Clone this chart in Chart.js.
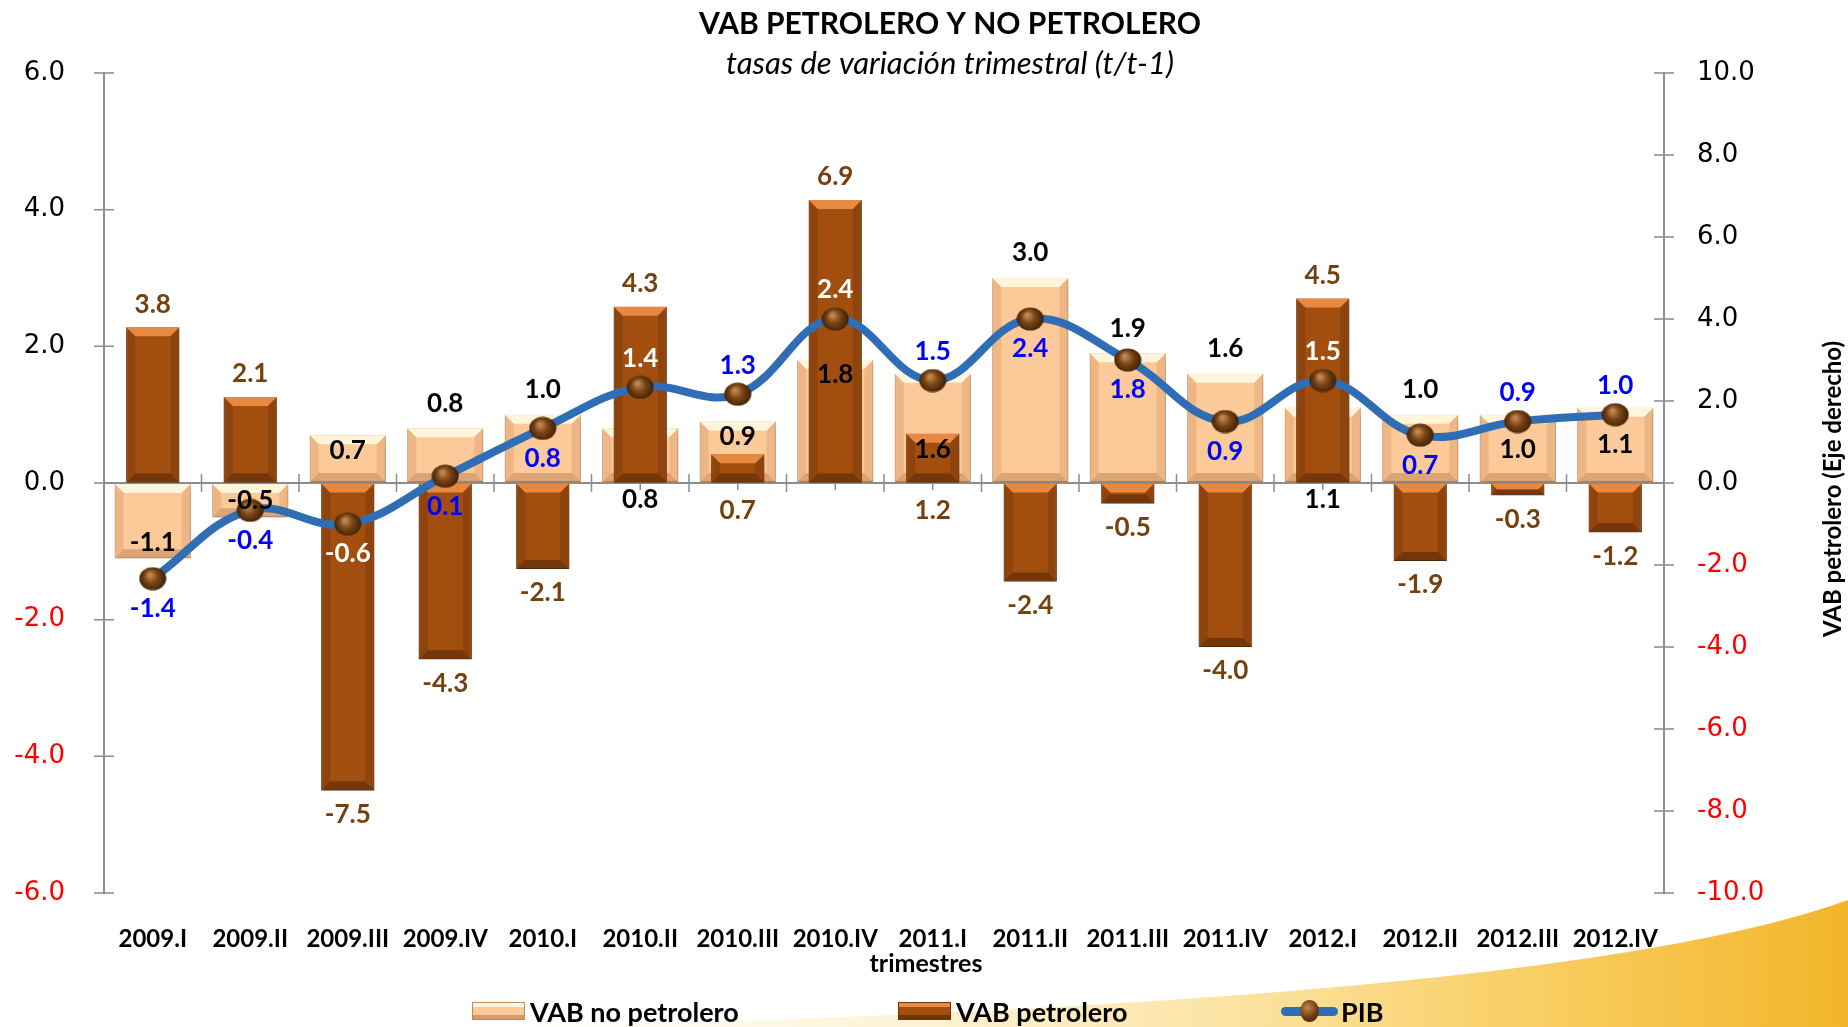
<!DOCTYPE html>
<html lang="es">
<head>
<meta charset="utf-8">
<title>VAB petrolero y no petrolero</title>
<script src="https://cdn.jsdelivr.net/npm/chart.js@4.4.1/dist/chart.umd.min.js"></script>
<style>
  body { margin: 0; background: #fff; }
  #marco { position: relative; width: 1848px; height: 1027px; overflow: hidden; }
  #grafico { position: absolute; left: 0; top: 0; }
  .item { position: absolute; top: 995px; height: 32px; display: flex; align-items: center;
          font: bold 27px Lato, sans-serif; color: #000; white-space: nowrap; }
  .caja { width: 53px; height: 18px; margin-right: 5px; box-sizing: border-box; }
  .noPet { background: linear-gradient(#fff6dc 0 22%, #fcc998 22% 78%, #d49a68 78%); border: 1px solid #c08a5a; }
  .pet { background: linear-gradient(#e88c48 0 22%, #a34e0e 22% 78%, #6e3306 78%); border: 1px solid #6e3306; }
  .pib { position: relative; width: 57px; height: 30px; margin-right: 3px; }
  .pib .linea { position: absolute; left: 0; right: 0; top: 11px; height: 9px; border-radius: 5px; background: #2f6db5; }
  .pib .bola { position: absolute; left: 19px; top: 4px; width: 19px; height: 22px; border-radius: 50%;
               background: radial-gradient(circle at 40% 35%, #c08650, #6b3a10 55%, #3a1e05); }
</style>
</head>
<body>
<div id="marco">
  <canvas id="grafico" width="1848" height="1027"></canvas>
  <div class="item" style="left:472px"><div class="caja noPet"></div>VAB no petrolero</div>
  <div class="item" style="left:898px"><div class="caja pet"></div>VAB petrolero</div>
  <div class="item" style="left:1281px"><div class="pib"><div class="linea"></div><div class="bola"></div></div>PIB</div>
</div>
<script>
// Datos (tasas t/t-1)
const trimestres = ['2009.I', '2009.II', '2009.III', '2009.IV', '2010.I', '2010.II', '2010.III', '2010.IV',
                    '2011.I', '2011.II', '2011.III', '2011.IV', '2012.I', '2012.II', '2012.III', '2012.IV'];
const vabNoPetrolero = [-1.1, -0.5, 0.7, 0.8, 1.0, 0.8, 0.9, 1.8, 1.6, 3.0, 1.9, 1.6, 1.1, 1.0, 1.0, 1.1];
const vabPetrolero = [3.8, 2.1, -7.5, -4.3, -2.1, 4.3, 0.7, 6.9, 1.2, -2.4, -0.5, -4.0, 4.5, -1.9, -0.3, -1.2];
const pib = [-1.4, -0.4, -0.6, 0.1, 0.8, 1.4, 1.3, 2.4, 1.5, 2.4, 1.8, 0.9, 1.5, 0.7, 0.9, 1.0];
const ticksIzq = [-6, -4, -2, 0, 2, 4, 6];
const ticksDer = [-10, -8, -6, -4, -2, 0, 2, 4, 6, 8, 10];

// Ubicación de las etiquetas de datos
const posNoPet = ['dentro', 'centro', 'dentro', 'fuera', 'fuera', 'base', 'dentro', 'dentro',
                  'bajo', 'fuera', 'fuera', 'fuera', 'base', 'fuera', 'bajo', 'centro'];
const posPet = ['fuera', 'fuera', 'fuera', 'fuera', 'fuera', 'fuera', 'base', 'fuera',
                'base', 'fuera', 'fuera', 'fuera', 'fuera', 'fuera', 'fuera', 'fuera'];
const posPib = ['abajo', 'abajo', 'abajo', 'abajo', 'abajo', 'arriba', 'arriba', 'arriba',
                'arriba', 'abajo', 'abajo', 'abajo', 'arriba', 'abajo', 'arriba', 'arriba'];
const pibBlanco = [2, 5, 7, 12];

const GRIS = '#8c8c8c';

// bolita marrón para los puntos del PIB
function esfera() {
    const c = document.createElement('canvas');
    c.width = 28; c.height = 24;
    const g = c.getContext('2d');
    const gr = g.createRadialGradient(11, 8, 1, 14, 12, 14);
    gr.addColorStop(0, '#c58a55');
    gr.addColorStop(0.45, '#7a4515');
    gr.addColorStop(1, '#3a1e05');
    g.fillStyle = gr;
    g.beginPath();
    g.ellipse(14, 12, 13.5, 11.5, 0, 0, Math.PI * 2);
    g.fill();
    return c;
}

// Fondo con la franja amarilla
const fondo = {
    id: 'fondo',
    beforeDraw(chart) {
        const { ctx, width, height } = chart;
        ctx.save();
        ctx.fillStyle = '#fff';
        ctx.fillRect(0, 0, width, height);
        const g = ctx.createLinearGradient(500, 0, width, 0);
        g.addColorStop(0, 'rgba(253,236,190,0)');
        g.addColorStop(0.35, 'rgba(252,228,160,0.55)');
        g.addColorStop(0.75, '#f9d067');
        g.addColorStop(1, '#f2b52a');
        ctx.fillStyle = g;
        ctx.beginPath();
        ctx.moveTo(500, height);
        ctx.quadraticCurveTo(1560, 1005, width, 900);
        ctx.lineTo(width, height);
        ctx.closePath();
        ctx.fill();
        ctx.restore();
    }
};

// Marcas que cruzan los ejes
const marcas = {
    id: 'marcas',
    beforeDatasetsDraw(chart) {
        const { ctx, scales: { x, y, y2 } } = chart;
        const cero = y.getPixelForValue(0);
        const paso = x.width / trimestres.length;
        ctx.save();
        ctx.strokeStyle = GRIS;
        ctx.lineWidth = 1.5;
        ctx.beginPath();
        y.ticks.forEach(t => {
            const py = y.getPixelForValue(t.value);
            ctx.moveTo(y.right - 10, py); ctx.lineTo(y.right + 10, py);
        });
        y2.ticks.forEach(t => {
            const py = y2.getPixelForValue(t.value);
            ctx.moveTo(y2.left - 10, py); ctx.lineTo(y2.left + 10, py);
        });
        for (let i = 1; i < trimestres.length; i++) {
            const px = x.left + i * paso;
            ctx.moveTo(px, cero - 9); ctx.lineTo(px, cero + 9);
        }
        trimestres.forEach((t, i) => {
            const px = x.getPixelForValue(i);
            ctx.moveTo(px, cero); ctx.lineTo(px, cero + 7);
        });
        ctx.stroke();
        ctx.restore();
    }
};

// Efecto biselado y sombra en las barras
const tonosBisel = {
    0: ['rgba(255,248,222,0.95)', 'rgba(222,160,108,0.45)', 'rgba(190,128,78,0.5)'],
    1: ['rgba(236,140,70,0.95)', 'rgba(120,55,10,0.45)', 'rgba(80,35,5,0.55)']
};
function cara(ctx, pts, color) {
    ctx.fillStyle = color;
    ctx.beginPath();
    pts.forEach((p, k) => k ? ctx.lineTo(p[0], p[1]) : ctx.moveTo(p[0], p[1]));
    ctx.closePath();
    ctx.fill();
}
const bisel = {
    id: 'bisel',
    beforeDatasetDraw(chart, args) {
        const ctx = chart.ctx;
        ctx.save();
        if (args.meta.type === 'bar') {
            ctx.shadowColor = 'rgba(0,0,0,0.3)';
            ctx.shadowBlur = 6;
            ctx.shadowOffsetX = 2;
            ctx.shadowOffsetY = 3;
        }
    },
    afterDatasetDraw(chart, args) {
        const ctx = chart.ctx;
        ctx.restore();
        const tonos = tonosBisel[args.index];
        if (!tonos) return;
        ctx.save();
        args.meta.data.forEach(el => {
            const { x, y, base, width } = el.getProps(['x', 'y', 'base', 'width'], true);
            const l = x - width / 2, r = x + width / 2;
            const t = Math.min(y, base), b = Math.max(y, base);
            const d = Math.min(9, (b - t) / 2, width / 4);
            cara(ctx, [[l, t], [r, t], [r - d, t + d], [l + d, t + d]], tonos[0]);
            cara(ctx, [[r, t], [r, b], [r - d, b - d], [r - d, t + d]], tonos[1]);
            cara(ctx, [[l, t], [l, b], [l + d, b - d], [l + d, t + d]], tonos[1]);
            cara(ctx, [[l, b], [r, b], [r - d, b - d], [l + d, b - d]], tonos[2]);
        });
        ctx.restore();
    }
};

// Etiquetas de datos
const etiquetas = {
    id: 'etiquetas',
    afterDatasetsDraw(chart) {
        const ctx = chart.ctx;
        const cero = chart.scales.y.getPixelForValue(0);
        ctx.save();
        ctx.font = 'bold 26px Lato';
        ctx.textAlign = 'center';
        ctx.textBaseline = 'middle';

        chart.getDatasetMeta(0).data.forEach((el, i) => {
            const v = vabNoPetrolero[i];
            const t = Math.min(el.y, el.base), b = Math.max(el.y, el.base);
            let py;
            switch (posNoPet[i]) {
                case 'fuera': py = v >= 0 ? t - 25 : b + 25; break;
                case 'dentro': py = v >= 0 ? t + 15 : b - 16; break;
                case 'centro': py = (t + b) / 2; break;
                case 'bajo': py = cero - 33; break;
                default: py = cero + 17;
            }
            ctx.fillStyle = '#000';
            ctx.fillText(v.toFixed(1), el.x, py);
        });

        chart.getDatasetMeta(1).data.forEach((el, i) => {
            const v = vabPetrolero[i];
            const t = Math.min(el.y, el.base), b = Math.max(el.y, el.base);
            const py = posPet[i] === 'base' ? cero + 28 : (v >= 0 ? t - 23 : b + 24);
            ctx.fillStyle = '#74410f';
            ctx.fillText(v.toFixed(1), el.x, py);
        });

        chart.getDatasetMeta(2).data.forEach((el, i) => {
            const py = posPib[i] === 'arriba' ? el.y - 29 : el.y + 30;
            ctx.fillStyle = pibBlanco.includes(i) ? '#fff' : '#0000ff';
            ctx.fillText(pib[i].toFixed(1), el.x, py);
        });
        ctx.restore();
    }
};

// Títulos
const titulos = {
    id: 'titulos',
    afterDraw(chart) {
        const ctx = chart.ctx;
        ctx.save();
        ctx.fillStyle = '#000';
        ctx.textAlign = 'center';
        ctx.textBaseline = 'middle';
        ctx.font = 'bold 30px Lato';
        ctx.fillText('VAB PETROLERO Y NO PETROLERO', 950, 24);
        ctx.font = 'italic 31px Lato';
        ctx.fillText('tasas de variación trimestral (t/t-1)', 950, 64);
        ctx.font = 'bold 25px Lato';
        ctx.fillText('trimestres', 926, 964);
        ctx.translate(1833, 489);
        ctx.rotate(-Math.PI / 2);
        ctx.font = 'bold 24px Lato';
        ctx.fillText('VAB petrolero (Eje derecho)', 0, 0);
        ctx.restore();
    }
};

const colorTick = c => c.tick.value < 0 ? '#ff0000' : '#000';
const fmt = v => v.toFixed(1);

new Chart(document.getElementById('grafico'), {
    type: 'bar',
    data: {
        labels: trimestres,
        datasets: [
            {
                label: 'VAB no petrolero',
                data: vabNoPetrolero,
                yAxisID: 'y',
                order: 2,
                grouped: false,
                barPercentage: 0.78,
                categoryPercentage: 1,
                backgroundColor: '#fcc999',
                borderColor: '#d29c6c',
                borderWidth: 1,
                borderSkipped: false
            },
            {
                label: 'VAB petrolero',
                data: vabPetrolero,
                yAxisID: 'y2',
                order: 1,
                grouped: false,
                barPercentage: 0.545,
                categoryPercentage: 1,
                backgroundColor: '#a24e0f',
                borderColor: '#73370a',
                borderWidth: 1,
                borderSkipped: false
            },
            {
                type: 'line',
                label: 'PIB',
                data: pib,
                yAxisID: 'y',
                order: 0,
                borderColor: '#2f6db5',
                borderWidth: 8,
                tension: 0.4,
                fill: false,
                pointStyle: esfera(),
                pointRadius: 12
            }
        ]
    },
    options: {
        responsive: false,
        animation: false,
        layout: { padding: { top: 73, left: 0, right: 0, bottom: 0 } },
        plugins: {
            legend: { display: false },
            title: { display: false },
            tooltip: { enabled: false }
        },
        scales: {
            x: {
                grid: { display: false, drawTicks: false },
                border: { display: false },
                ticks: {
                    font: { family: 'Lato', weight: 'bold', size: 24 },
                    color: '#000',
                    padding: 32,
                    maxRotation: 0,
                    autoSkip: false
                },
                afterFit: s => { s.height = 134; }
            },
            y: {
                position: 'left',
                min: ticksIzq[0],
                max: ticksIzq[ticksIzq.length - 1],
                afterBuildTicks: s => { s.ticks = ticksIzq.map(v => ({ value: v })); },
                grid: {
                    color: c => c.tick && c.tick.value === 0 ? GRIS : 'transparent',
                    lineWidth: 2,
                    drawTicks: false
                },
                border: { color: GRIS, width: 2 },
                ticks: {
                    font: { family: 'DejaVu Sans', size: 26 },
                    color: colorTick,
                    padding: 39,
                    callback: fmt
                },
                afterFit: s => { s.width = 104; }
            },
            y2: {
                position: 'right',
                min: ticksDer[0],
                max: ticksDer[ticksDer.length - 1],
                afterBuildTicks: s => { s.ticks = ticksDer.map(v => ({ value: v })); },
                grid: { drawOnChartArea: false, drawTicks: false },
                border: { color: GRIS, width: 2 },
                ticks: {
                    font: { family: 'DejaVu Sans', size: 26 },
                    color: colorTick,
                    padding: 33,
                    callback: fmt
                },
                afterFit: s => { s.width = 184; }
            }
        }
    },
    plugins: [fondo, marcas, bisel, etiquetas, titulos]
});
</script>
</body>
</html>
